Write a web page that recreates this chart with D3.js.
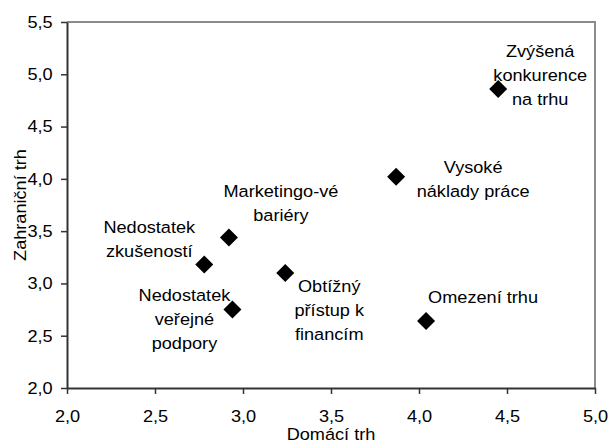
<!DOCTYPE html>
<html>
<head>
<meta charset="utf-8">
<script src="https://cdn.jsdelivr.net/npm/d3@7"></script>
<style>
  html, body { margin: 0; padding: 0; background: #fff; }
  svg text { font-family: "Liberation Sans", Arial, sans-serif; fill: #000; }
</style>
</head>
<body>
<svg id="chart" width="611" height="443"></svg>
<script>
// ---- data ----
const categories = [
  "Zvýšená konkurence na trhu",
  "Vysoké náklady práce",
  "Omezení trhu",
  "Marketingo-vé bariéry",
  "Obtížný přístup k financím",
  "Nedostatek veřejné podpory",
  "Nedostatek zkušeností"
];
const domesticValues = [4.45, 3.87, 4.04, 2.92, 3.24, 2.94, 2.78];
const foreignValues  = [4.86, 4.02, 2.64, 3.44, 3.10, 2.75, 3.18];
const labelLines = [
  ["Zvýšená", "konkurence", "na trhu"],
  ["Vysoké", "náklady práce"],
  ["Omezení trhu"],
  ["Marketingo-vé", "bariéry"],
  ["Obtížný", "přístup k", "financím"],
  ["Nedostatek", "veřejné", "podpory"],
  ["Nedostatek", "zkušeností"]
];
const xTicks = [2.0, 2.5, 3.0, 3.5, 4.0, 4.5, 5.0];
const yTicks = [2.0, 2.5, 3.0, 3.5, 4.0, 4.5, 5.0, 5.5];
const xTitle = "Domácí trh";
const yTitle = "Zahraniční trh";

// ---- layout (label placement relative to each point, px) ----
const labelLayout = [
  { dx: 42, dy: -38 },
  { dx: 77, dy: -10 },
  { dx: 57, dy: -24 },
  { dx: 52, dy: -46 },
  { dx: 44, dy: 13 },
  { dx: -48, dy: -14 },
  { dx: -55, dy: -37 }
];
const lineHeight = 24;
const FS = 16.5, SX = 1.1;

const W = 611, H = 443;
const margin = { left: 67, right: 16, top: 22, bottom: 55 };
const svg = d3.select("#chart");

const x = d3.scaleLinear().domain([2, 5]).range([margin.left, W - margin.right]);
const y = d3.scaleLinear().domain([2, 5.5]).range([H - margin.bottom, margin.top]);
const fmt = d => d.toFixed(1).replace(".", ",");

// top & right border (grey)
svg.append("path")
  .attr("d", `M${x(2)},${y(5.5)}H${x(5)}V${y(2)}`)
  .attr("fill", "none").attr("stroke", "#8c8c8c").attr("stroke-width", 2);

// axes
const xAxis = svg.append("g")
  .attr("transform", `translate(0,${y(2)})`)
  .call(d3.axisBottom(x).tickValues(xTicks).tickFormat(fmt).tickSize(6).tickPadding(16).tickSizeOuter(0));
const yAxis = svg.append("g")
  .attr("transform", `translate(${x(2)},0)`)
  .call(d3.axisLeft(y).tickValues(yTicks).tickFormat(fmt).tickSize(6).tickPadding(7).tickSizeOuter(0));

[xAxis, yAxis].forEach(g => {
  g.select(".domain").attr("stroke", "#333").attr("stroke-width", 2);
  g.selectAll(".tick line").attr("stroke", "#333").attr("stroke-width", 1.5);
  g.selectAll(".tick text").attr("font-size", FS).attr("fill", "#000")
    .attr("transform", `scale(${SX},1)`)
    .style("font-family", '"Liberation Sans", Arial, sans-serif');
});

// axis titles
svg.append("text")
  .attr("transform", `translate(${(x(2) + x(5)) / 2},440) scale(${SX},1)`)
  .attr("text-anchor", "middle").attr("font-size", FS)
  .text(xTitle);
svg.append("text")
  .attr("transform", `translate(26,${(y(2) + y(5.5)) / 2}) rotate(-90) scale(${SX},1)`)
  .attr("text-anchor", "middle").attr("font-size", FS)
  .text(yTitle);

// points
const pts = categories.map((c, i) => ({ c, xv: domesticValues[i], yv: foreignValues[i], lines: labelLines[i], lay: labelLayout[i] }));
const sym = d3.symbol().type(d3.symbolSquare).size(162);
svg.append("g").selectAll("path").data(pts).join("path")
  .attr("d", sym)
  .attr("transform", d => `translate(${x(d.xv)},${y(d.yv)}) rotate(45)`)
  .attr("fill", "#000");

// labels
const lab = svg.append("g").selectAll("text").data(pts).join("text")
  .attr("text-anchor", "middle").attr("font-size", FS)
  .attr("transform", d => `translate(${x(d.xv) + d.lay.dx},${y(d.yv) + d.lay.dy}) scale(${SX},1)`);
lab.selectAll("tspan").data(d => d.lines.map((l, j) => ({ l, j }))).join("tspan")
  .attr("x", 0)
  .attr("y", t => t.j * lineHeight)
  .attr("dy", "0.35em")
  .text(t => t.l);
</script>
</body>
</html>
